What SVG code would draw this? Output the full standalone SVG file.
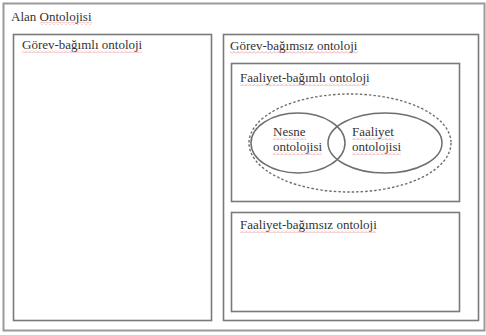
<svg xmlns="http://www.w3.org/2000/svg" width="486" height="335" viewBox="0 0 486 335">
<style>
  .box { fill: #ffffff; stroke: #7a7a7a; stroke-width: 1.6; }
  .outer { fill: #ffffff; stroke: #9a9a9a; stroke-width: 2; }
  .ell { fill: none; stroke: #6e6e6e; stroke-width: 1.5; }
  .dash { fill: none; stroke: #6e6e6e; stroke-width: 1.4; stroke-dasharray: 2.5 2; }
  .t { font-family: "Liberation Serif", "Times New Roman", serif; font-size: 13px; fill: #333333; }
  .sq { fill: url(#squig); }
</style>
<defs>
  <pattern id="squig" x="0" y="0" width="4" height="3" patternUnits="userSpaceOnUse">
    <path d="M0,2.5 L2,0.5 L4,2.5" fill="none" stroke="#e06060" stroke-width="0.8" opacity="0.7"/>
  </pattern>
</defs>
<rect width="486" height="335" fill="#ffffff"/>
<g id="alan-ontolojisi">
  <rect class="outer" x="3.5" y="3.5" width="481" height="327"/>
  <text class="t" x="11" y="21">Alan Ontolojisi</text>
  <rect class="sq" x="40" y="22" width="52" height="3"/>
</g>
<g id="gorev-bagimli">
  <rect class="box" x="13.5" y="34.5" width="198" height="286"/>
  <text class="t" x="22" y="49">Görev-bağımlı ontoloji</text>
  <rect class="sq" x="22" y="50" width="120" height="3"/>
</g>
<g id="gorev-bagimsiz">
  <rect class="box" x="223.5" y="34.5" width="255" height="286"/>
  <text class="t" x="230" y="50">Görev-bağımsız ontoloji</text>
  <rect class="sq" x="230" y="51" width="128" height="3"/>
</g>
<g id="faaliyet-bagimli">
  <rect class="box" x="231.5" y="63.5" width="228" height="138"/>
  <text class="t" x="240" y="82">Faaliyet-bağımlı ontoloji</text>
  <rect class="sq" x="240" y="83" width="128" height="3"/>
  <ellipse class="dash" cx="350" cy="143" rx="101" ry="49"/>
</g>
<g id="nesne-ontolojisi">
  <ellipse class="ell" cx="298" cy="143" rx="47" ry="30"/>
  <text class="t" x="273" y="136">Nesne</text>
  <text class="t" x="273" y="151">ontolojisi</text>
  <rect class="sq" x="273" y="137" width="33" height="3"/>
  <rect class="sq" x="273" y="152" width="49" height="3"/>
</g>
<g id="faaliyet-ontolojisi">
  <ellipse class="ell" cx="385" cy="143" rx="57" ry="30"/>
  <text class="t" x="352" y="136">Faaliyet</text>
  <text class="t" x="352" y="151">ontolojisi</text>
  <rect class="sq" x="352" y="137" width="42" height="3"/>
  <rect class="sq" x="352" y="152" width="49" height="3"/>
</g>
<g id="faaliyet-bagimsiz">
  <rect class="box" x="231.5" y="212.5" width="228" height="99"/>
  <text class="t" x="240" y="229">Faaliyet-bağımsız ontoloji</text>
  <rect class="sq" x="240" y="230" width="136" height="3"/>
</g>
<g id="connectors"></g>
</svg>
